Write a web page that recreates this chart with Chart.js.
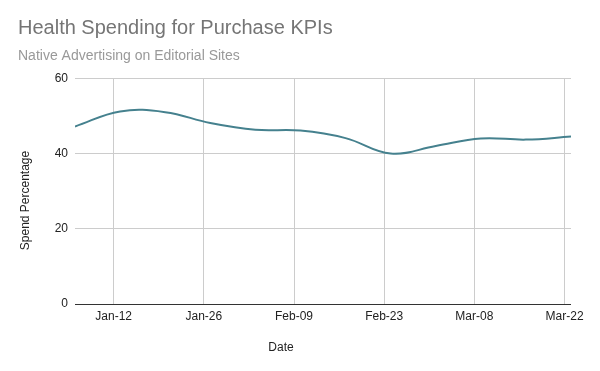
<!DOCTYPE html>
<html>
<head>
<meta charset="utf-8">
<script src="https://cdn.jsdelivr.net/npm/chart.js@4/dist/chart.umd.min.js"></script>
<style>
    html, body { margin: 0; padding: 0; background: #fff; }
    #wrap { width: 600px; height: 371px; }
</style>
</head>
<body>
<div id="wrap"><canvas id="spendChart" width="600" height="371"></canvas></div>
<script>
// weekly data points (2020)
const dates = ['2020-01-06', '2020-01-13', '2020-01-20', '2020-01-27', '2020-02-03', '2020-02-10',
    '2020-02-17', '2020-02-24', '2020-03-02', '2020-03-09', '2020-03-16', '2020-03-23'];
const spend = [47.2, 51.2, 51.0, 48.1, 46.3, 46.1, 44.1, 40.0, 42.0, 44.0, 43.7, 44.5];

// x axis ticks, every two weeks
const tickDates = ['2020-01-12', '2020-01-26', '2020-02-09', '2020-02-23', '2020-03-08', '2020-03-22'];
const tickLabels = ['Jan-12', 'Jan-26', 'Feb-09', 'Feb-23', 'Mar-08', 'Mar-22'];
const yTicks = [0, 20, 40, 60];

const FONT = "Arial, 'Liberation Sans', sans-serif";

// day of year, so the linear scale keeps real spacing
const dayOf = (s) => (Date.parse(s) - Date.UTC(2020, 0, 0)) / 86400000;

const points = dates.map((d, i) => ({ x: dayOf(d), y: spend[i] }));
const tickDays = tickDates.map(dayOf);

// axis titles placed the way the original chart puts them
const axisTitles = {
    id: 'axisTitles',
    afterDraw(chart) {
        const ctx = chart.ctx;
        ctx.save();
        ctx.fillStyle = '#222';
        ctx.font = '12px ' + FONT;
        ctx.textAlign = 'center';
        ctx.textBaseline = 'middle';
        ctx.fillText('Date', 281, 347.5);
        ctx.translate(26, 200.5);
        ctx.rotate(-Math.PI / 2);
        ctx.fillText('Spend Percentage', 0, 0);
        ctx.restore();
    }
};

const ctx = document.getElementById('spendChart').getContext('2d');
new Chart(ctx, {
    type: 'line',
    data: {
        datasets: [{
            label: 'Spend Percentage',
            data: points,
            borderColor: '#45818e',
            borderWidth: 2,
            pointRadius: 0,
            tension: 0.4,
            fill: false,
        }],
    },
    options: {
        responsive: false,
        animation: false,
        layout: { padding: { left: 18, right: 29, top: 0, bottom: 0 } },
        plugins: {
            legend: { display: false },
            tooltip: { enabled: false },
            title: {
                display: true,
                text: 'Health Spending for Purchase KPIs',
                align: 'start',
                color: '#757575',
                font: { family: FONT, size: 20, weight: 'normal' },
                padding: { top: 16, bottom: 8 },
            },
            subtitle: {
                display: true,
                text: 'Native Advertising on Editorial Sites',
                align: 'start',
                color: '#999999',
                font: { family: FONT, size: 14, weight: 'normal' },
                padding: { top: 0, bottom: 13.5 },
            },
        },
        scales: {
            x: {
                type: 'linear',
                min: dayOf(dates[0]),
                max: dayOf(dates[dates.length - 1]),
                afterBuildTicks: (scale) => {
                    scale.ticks = tickDays.map(v => ({ value: v }));
                },
                afterFit: (scale) => { scale.height = 67; },
                grid: { color: '#cccccc', drawTicks: false },
                border: { display: false },
                ticks: {
                    color: '#222',
                    font: { family: FONT, size: 12 },
                    padding: 5,
                    maxRotation: 0,
                    autoSkip: false,
                    callback: (v) => tickLabels[tickDays.indexOf(v)],
                },
            },
            y: {
                min: 0,
                max: 60,
                afterBuildTicks: (scale) => {
                    scale.ticks = yTicks.map(v => ({ value: v }));
                },
                afterFit: (scale) => { scale.width = 57; },
                grid: {
                    color: (c) => c.tick && c.tick.value === 0 ? '#333333' : '#cccccc',
                    drawTicks: false,
                },
                border: { display: false },
                ticks: {
                    color: '#222',
                    font: { family: FONT, size: 12 },
                    padding: 7,
                },
            },
        },
    },
    plugins: [axisTitles],
});
</script>
</body>
</html>
